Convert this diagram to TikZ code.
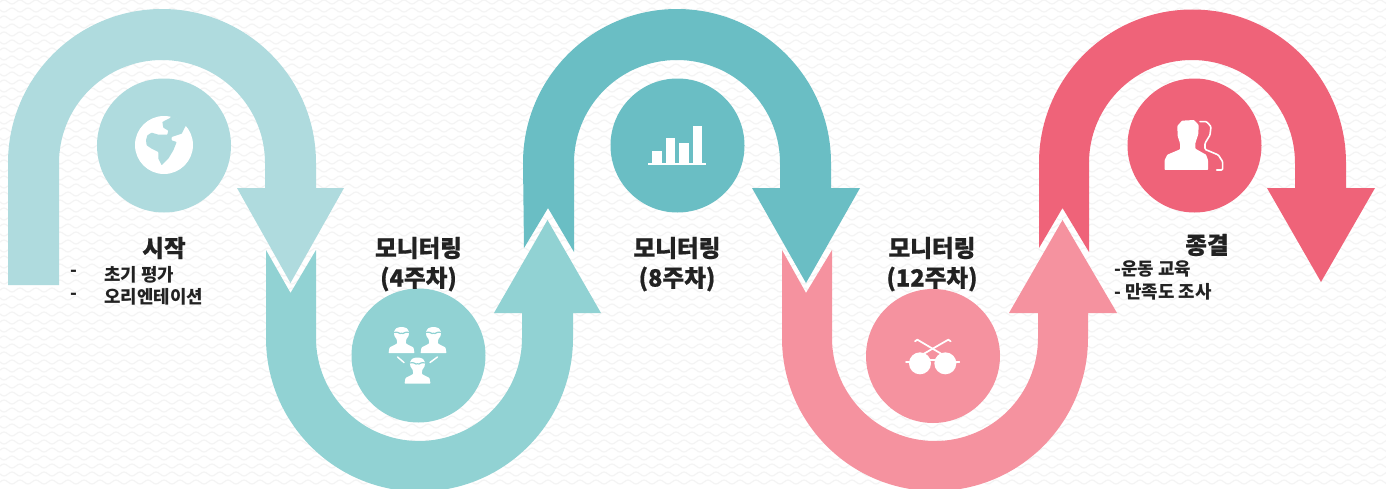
\documentclass[tikz,border=0pt]{standalone}
\usepackage{fontspec}
\setmainfont{Noto Sans CJK KR}
\definecolor{cA}{HTML}{AFDBDE}
\definecolor{cB}{HTML}{91D2D3}
\definecolor{cC}{HTML}{6ABEC4}
\definecolor{cD}{HTML}{F5929F}
\definecolor{cE}{HTML}{EF6379}
\definecolor{ink}{HTML}{222222}
\definecolor{wave}{HTML}{F4F4F4}
\tikzset{
  disc/.style={circle,minimum size=100.5pt,inner sep=0,fill=#1},
  title/.style={inner sep=0,text=ink,font=\fontsize{17.7pt}{20pt}\selectfont\bfseries\addfontfeatures{FakeBold=0.7}},
  body/.style={inner sep=0,text=ink,anchor=west,font=\fontsize{13.4pt}{15pt}\selectfont\bfseries},
  iconline/.style={draw=white,line cap=round,line join=round},
}
\newcommand{\headicon}[2]{%
  \begin{scope}[shift={(#1,#2)},scale=0.3333]
    \fill[white,rounded corners=.5pt] (-13,24) -- (-14,12) -- (-21,2) -- (-23,-10) -- (-17,-21) -- (-7,-25) -- (7,-25) -- (17,-21) -- (23,-10) -- (21,2) -- (14,12) -- (13,24) -- (36,36) -- (39,53) -- (-39,53) -- (-36,36) -- cycle;
    \draw[cB,line width=.9pt] (-24,-9) .. controls (-8,-14) and (-6,-2) .. (0,-7) .. controls (6,-2) and (8,-14) .. (24,-9);
  \end{scope}}
\begin{document}
\begin{tikzpicture}[x=1pt,y=1pt,yscale=-1,scale=.75]
\useasboundingbox (0,0) rectangle (1386,489);
\fill[white] (0,0) rectangle (1386,489);
\foreach \r in {0,...,60}{
  \pgfmathsetmacro{\yy}{\r*8+2}
  \pgfmathsetmacro{\off}{mod(\r,2)*8-16}
  \draw[wave,line width=.9pt]
    \foreach \k in {0,...,88}{
      ({\off+\k*16},\yy) sin ({\off+\k*16+4},{\yy-2}) cos ({\off+\k*16+8},\yy) sin ({\off+\k*16+12},{\yy+2}) cos ({\off+\k*16+16},\yy)
    };
}
% arrows
\fill[cA] (8,285) -- (8,163) arc[start angle=180,end angle=360,radius=154pt] -- (316,188) -- (344,188) -- (290.5,283) -- (237,188) -- (265,188) -- (265,163) arc[start angle=360,end angle=180,radius=103pt] -- (59,285) -- cycle;
\fill[cB] (266,250) -- (290.5,293) -- (316,250) -- (316,338) arc[start angle=180,end angle=0,radius=103pt] -- (522,313) -- (494,313) -- (547.5,220) -- (601,313) -- (573,313) -- (573,338) arc[start angle=0,end angle=180,radius=153.5pt] -- cycle;
\fill[cC] (524,248) -- (548,208) -- (574,252) -- (574,163) arc[start angle=180,end angle=360,radius=103pt] -- (780,188) -- (752,188) -- (806,283) -- (860,188) -- (831,188) -- (831,163) arc[start angle=360,end angle=180,radius=154pt] -- cycle;
\fill[cD] (782,250) -- (806,293) -- (832,250) -- (832,338) arc[start angle=180,end angle=0,radius=103pt] -- (1038,313) -- (1009,313) -- (1062.5,220) -- (1117,313) -- (1088,313) -- (1088,338) arc[start angle=0,end angle=180,radius=153pt] -- cycle;
\fill[cE] (1039,248) -- (1062.5,208) -- (1089,252) -- (1089,163) arc[start angle=180,end angle=360,radius=103pt] -- (1295,188) -- (1267,188) -- (1321,282) -- (1375,188) -- (1346,188) -- (1346,163) arc[start angle=360,end angle=180,radius=153.5pt] -- cycle;
% discs
\node[disc=cA] (d1) at (164,145.5) {};
\node[disc=cB] (d2) at (418.5,355.5) {};
\node[disc=cC] (d3) at (677.5,145.5) {};
\node[disc=cD] (d4) at (933,356) {};
\node[disc=cE] (d5) at (1194.5,145.5) {};
% globe
\fill[white] (164,145) circle[radius=29pt];
\begin{scope}
\clip (164,145) circle[radius=29.5pt];
\begin{scope}[shift={(130,112)},scale=0.3333]
\fill[cA,rounded corners=.4pt] (48,85) -- (52,70) -- (65,62) -- (85,68) -- (112,68) -- (115,56) -- (100,47) -- (97,30) -- (120,18) -- (135,0) -- (200,0) -- (167,42) -- (155,65) -- (125,75) -- (125,85) -- (140,90) -- (130,115) -- (115,140) -- (95,160) -- (85,140) -- (85,120) -- (65,110) -- (50,100) -- cycle;
\end{scope}
\end{scope}
% people
\headicon{401.5}{335.5}
\headicon{433.5}{335.5}
\headicon{417.5}{366}
\draw[iconline,line width=1.1pt] (397.5,357) -- (404,362.5);
\draw[iconline,line width=1.1pt] (437.5,357) -- (430,362.5);
% bars
\begin{scope}[shift={(600,70)},scale=0.3333]
\fill[white] (157,244) rectangle (186,280);
\fill[white] (197,203) rectangle (226,280);
\fill[white] (238,220) rectangle (267,280);
\fill[white] (278,168) rectangle (307,280);
\fill[white] (145,280) rectangle (318,285);
\end{scope}
% glasses
\begin{scope}[shift={(900,330)},scale=0.3333]
\fill[white] (60,100) circle[radius=33pt];
\fill[white] (136,100) circle[radius=33pt];
\draw[iconline,line width=1.3pt] (85,90) -- (110,90);
\draw[iconline,line width=1.3pt] (18,97) -- (35,97);
\draw[iconline,line width=1.3pt] (160,97) -- (178,97);
\draw[iconline,line width=1.3pt] (45,34) -- (52,29) -- (130,75);
\draw[iconline,line width=1.3pt] (152,34) -- (145,29) -- (65,75);
\end{scope}
% busts
\begin{scope}[shift={(1150,110)},scale=0.3333]
\fill[white,rounded corners=.5pt] (82,48) -- (96,32) -- (132,30) -- (146,45) -- (145,72) -- (136,100) -- (136,116) -- (168,134) -- (174,150) -- (174,180) -- (44,180) -- (44,150) -- (52,134) -- (90,118) -- (90,100) -- (83,78) -- cycle;
\draw[iconline,line width=1.2pt,rounded corners=.8pt] (150,35) -- (170,35) -- (183,50) -- (180,75) -- (165,100) -- (165,118) -- (205,135) -- (218,155) -- (218,180) -- (200,180);
\end{scope}
% labels
\node[title] (t1) at (164,248) {시작};
\node[body] (b1a) at (104,274.5) {초기 평가};
\node[body] (b1b) at (104,297) {오리엔테이션};
\node[body] (m1a) at (70,273) {-};
\node[body] (m1b) at (70,296) {-};
\node[title] (t2a) at (418.5,248) {모니터링};
\node[title] (t2b) at (418.5,279) {(4주차)};
\node[title] (t3a) at (677,248) {모니터링};
\node[title] (t3b) at (677,279) {(8주차)};
\node[title] (t4a) at (932,248) {모니터링};
\node[title] (t4b) at (932,279) {(12주차)};
\node[title] (t5) at (1207,245) {종결};
\node[body] (b5a) at (1114,269) {-운동 교육};
\node[body] (b5b) at (1114,292) {- 만족도 조사};
\end{tikzpicture}
\end{document}
